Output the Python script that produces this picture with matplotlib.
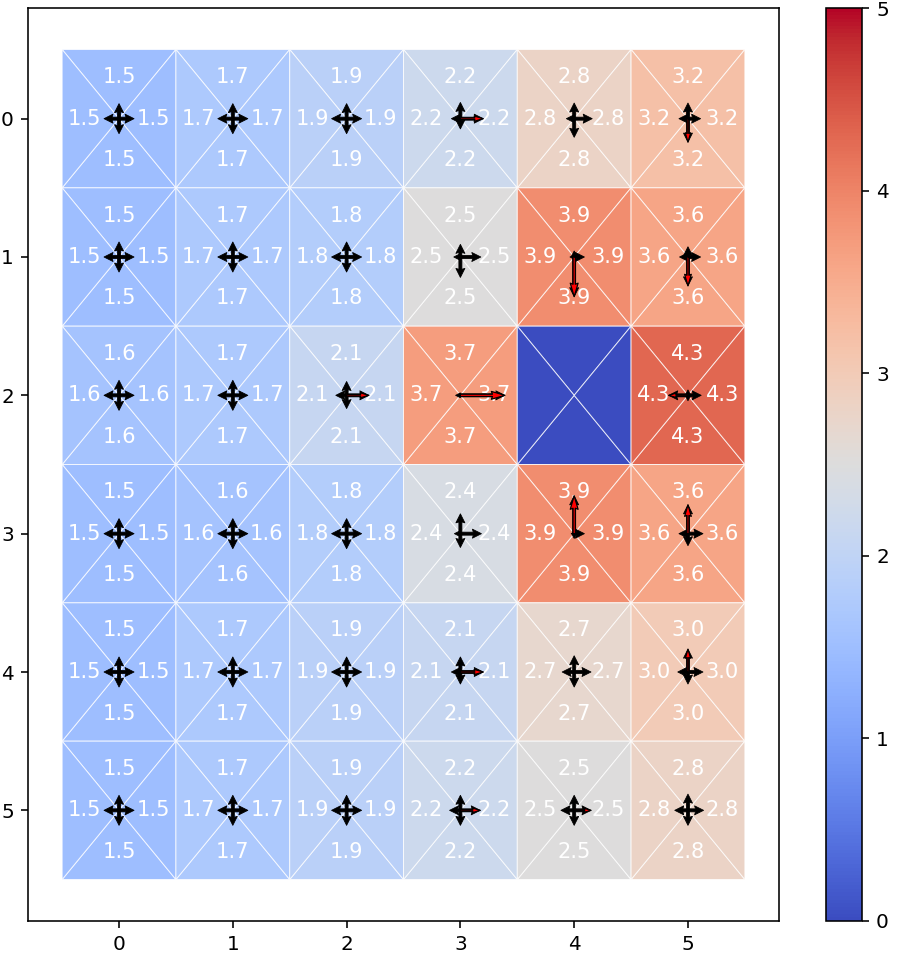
import numpy as np
import matplotlib
matplotlib.use("Agg")
import matplotlib.pyplot as plt
from matplotlib.collections import PolyCollection
from matplotlib.colors import Normalize

# Q-value per cell (same for all four actions as displayed); blocked cell marked
values = np.array([
    [1.5, 1.7, 1.9, 2.2, 2.8, 3.2],
    [1.5, 1.7, 1.8, 2.5, 3.9, 3.6],
    [1.6, 1.7, 2.1, 3.7, 0.0, 4.3],
    [1.5, 1.6, 1.8, 2.4, 3.9, 3.6],
    [1.5, 1.7, 1.9, 2.1, 2.7, 3.0],
    [1.5, 1.7, 1.9, 2.2, 2.5, 2.8],
])
blocked = [(2, 4)]

# policy arrow lengths per action
p_up = np.array([
    [0.25, 0.25, 0.25, 0.27, 0.26, 0.26],
    [0.25, 0.25, 0.25, 0.21, 0.10, 0.17],
    [0.25, 0.25, 0.23, 0.04, 0.00, 0.09],
    [0.25, 0.25, 0.25, 0.33, 0.63, 0.48],
    [0.25, 0.25, 0.25, 0.25, 0.27, 0.38],
    [0.25, 0.25, 0.25, 0.25, 0.25, 0.27],
])
p_down = np.array([
    [0.25, 0.25, 0.25, 0.17, 0.31, 0.39],
    [0.25, 0.25, 0.25, 0.34, 0.66, 0.48],
    [0.25, 0.25, 0.22, 0.04, 0.00, 0.09],
    [0.25, 0.25, 0.25, 0.23, 0.08, 0.20],
    [0.25, 0.25, 0.25, 0.20, 0.25, 0.20],
    [0.25, 0.25, 0.25, 0.25, 0.25, 0.25],
])
p_left = np.array([
    [0.25, 0.25, 0.25, 0.15, 0.13, 0.15],
    [0.25, 0.25, 0.25, 0.11, 0.07, 0.14],
    [0.25, 0.25, 0.18, 0.08, 0.00, 0.32],
    [0.25, 0.25, 0.25, 0.10, 0.05, 0.15],
    [0.25, 0.25, 0.25, 0.15, 0.20, 0.17],
    [0.25, 0.25, 0.25, 0.18, 0.22, 0.22],
])
p_right = np.array([
    [0.25, 0.25, 0.25, 0.38, 0.30, 0.21],
    [0.25, 0.25, 0.25, 0.34, 0.17, 0.21],
    [0.25, 0.25, 0.37, 0.74, 0.00, 0.22],
    [0.25, 0.25, 0.25, 0.35, 0.17, 0.25],
    [0.25, 0.25, 0.25, 0.38, 0.28, 0.25],
    [0.25, 0.25, 0.25, 0.33, 0.28, 0.26],
])

n_rows, n_cols = values.shape
W, H = 899, 957
DPI = 144
fig = plt.figure(figsize=(W / DPI, H / DPI), dpi=DPI)
ax = fig.add_axes([28 / W, (H - 921) / H, (779 - 28) / W, (921 - 8) / H])
cax = fig.add_axes([826 / W, (H - 921) / H, 36 / W, (921 - 8) / H])

cmap = plt.get_cmap("coolwarm")
norm = Normalize(vmin=0, vmax=5)

polys, cvals = [], []
for r in range(n_rows):
    for c in range(n_cols):
        x0, x1, y0, y1 = c - 0.5, c + 0.5, r - 0.5, r + 0.5
        ctr = (c, r)
        v = values[r, c]
        polys += [
            [(x0, y0), (x1, y0), ctr],  # up
            [(x0, y1), (x1, y1), ctr],  # down
            [(x0, y0), (x0, y1), ctr],  # left
            [(x1, y0), (x1, y1), ctr],  # right
        ]
        cvals += [v, v, v, v]

pc = PolyCollection(polys, array=np.array(cvals), cmap=cmap, norm=norm,
                    edgecolors=(1, 1, 1, 0.75), linewidths=0.5)
ax.add_collection(pc)

off = 0.3
for r in range(n_rows):
    for c in range(n_cols):
        if (r, c) in blocked:
            continue
        s = f"{values[r, c]:.1f}"
        kw = dict(color="white", fontsize=10.5, ha="center", va="center")
        ax.text(c, r - off, s, **kw)
        ax.text(c, r + off, s, **kw)
        ax.text(c - off, r, s, **kw)
        ax.text(c + off, r, s, **kw)

# arrows
X, Y, U, V = [], [], [], []
RX, RY, RU, RV = [], [], [], []
dirs = [(0, 1), (0, -1), (-1, 0), (1, 0)]
for r in range(n_rows):
    for c in range(n_cols):
        if (r, c) in blocked:
            continue
        probs = [p_up[r, c], p_down[r, c], p_left[r, c], p_right[r, c]]
        for p, (dx, dy) in zip(probs, dirs):
            if p <= 0:
                continue
            X.append(c); Y.append(r); U.append(dx * p); V.append(dy * p)
        srt = sorted(probs)
        if srt[-1] - srt[-2] > 0.02:
            k = int(np.argmax(probs))
            RX.append(c); RY.append(r)
            RU.append(dirs[k][0] * probs[k]); RV.append(dirs[k][1] * probs[k])

ax.quiver(X, Y, U, V, pivot="tail", angles="uv", scale_units="width",
          scale=12.5, width=0.004, headwidth=3, headlength=3,
          headaxislength=2.7, color="black", edgecolor="black",
          linewidth=0.4, zorder=3)
ax.quiver(RX, RY, RU, RV, pivot="tail", angles="uv", scale_units="width",
          scale=12.5, width=0.003, headwidth=3.5, headlength=6,
          headaxislength=5.5, minshaft=2.5, color="red", edgecolor="black",
          linewidth=0.6, zorder=4)

ax.set_xlim(-0.8, 5.8)
ax.set_ylim(5.8, -0.8)
ax.set_xticks(range(n_cols))
ax.set_yticks(range(n_rows))

sm = plt.cm.ScalarMappable(norm=norm, cmap=cmap)
fig.colorbar(sm, cax=cax, ticks=range(6))

fig.savefig("out.png", dpi=DPI)
